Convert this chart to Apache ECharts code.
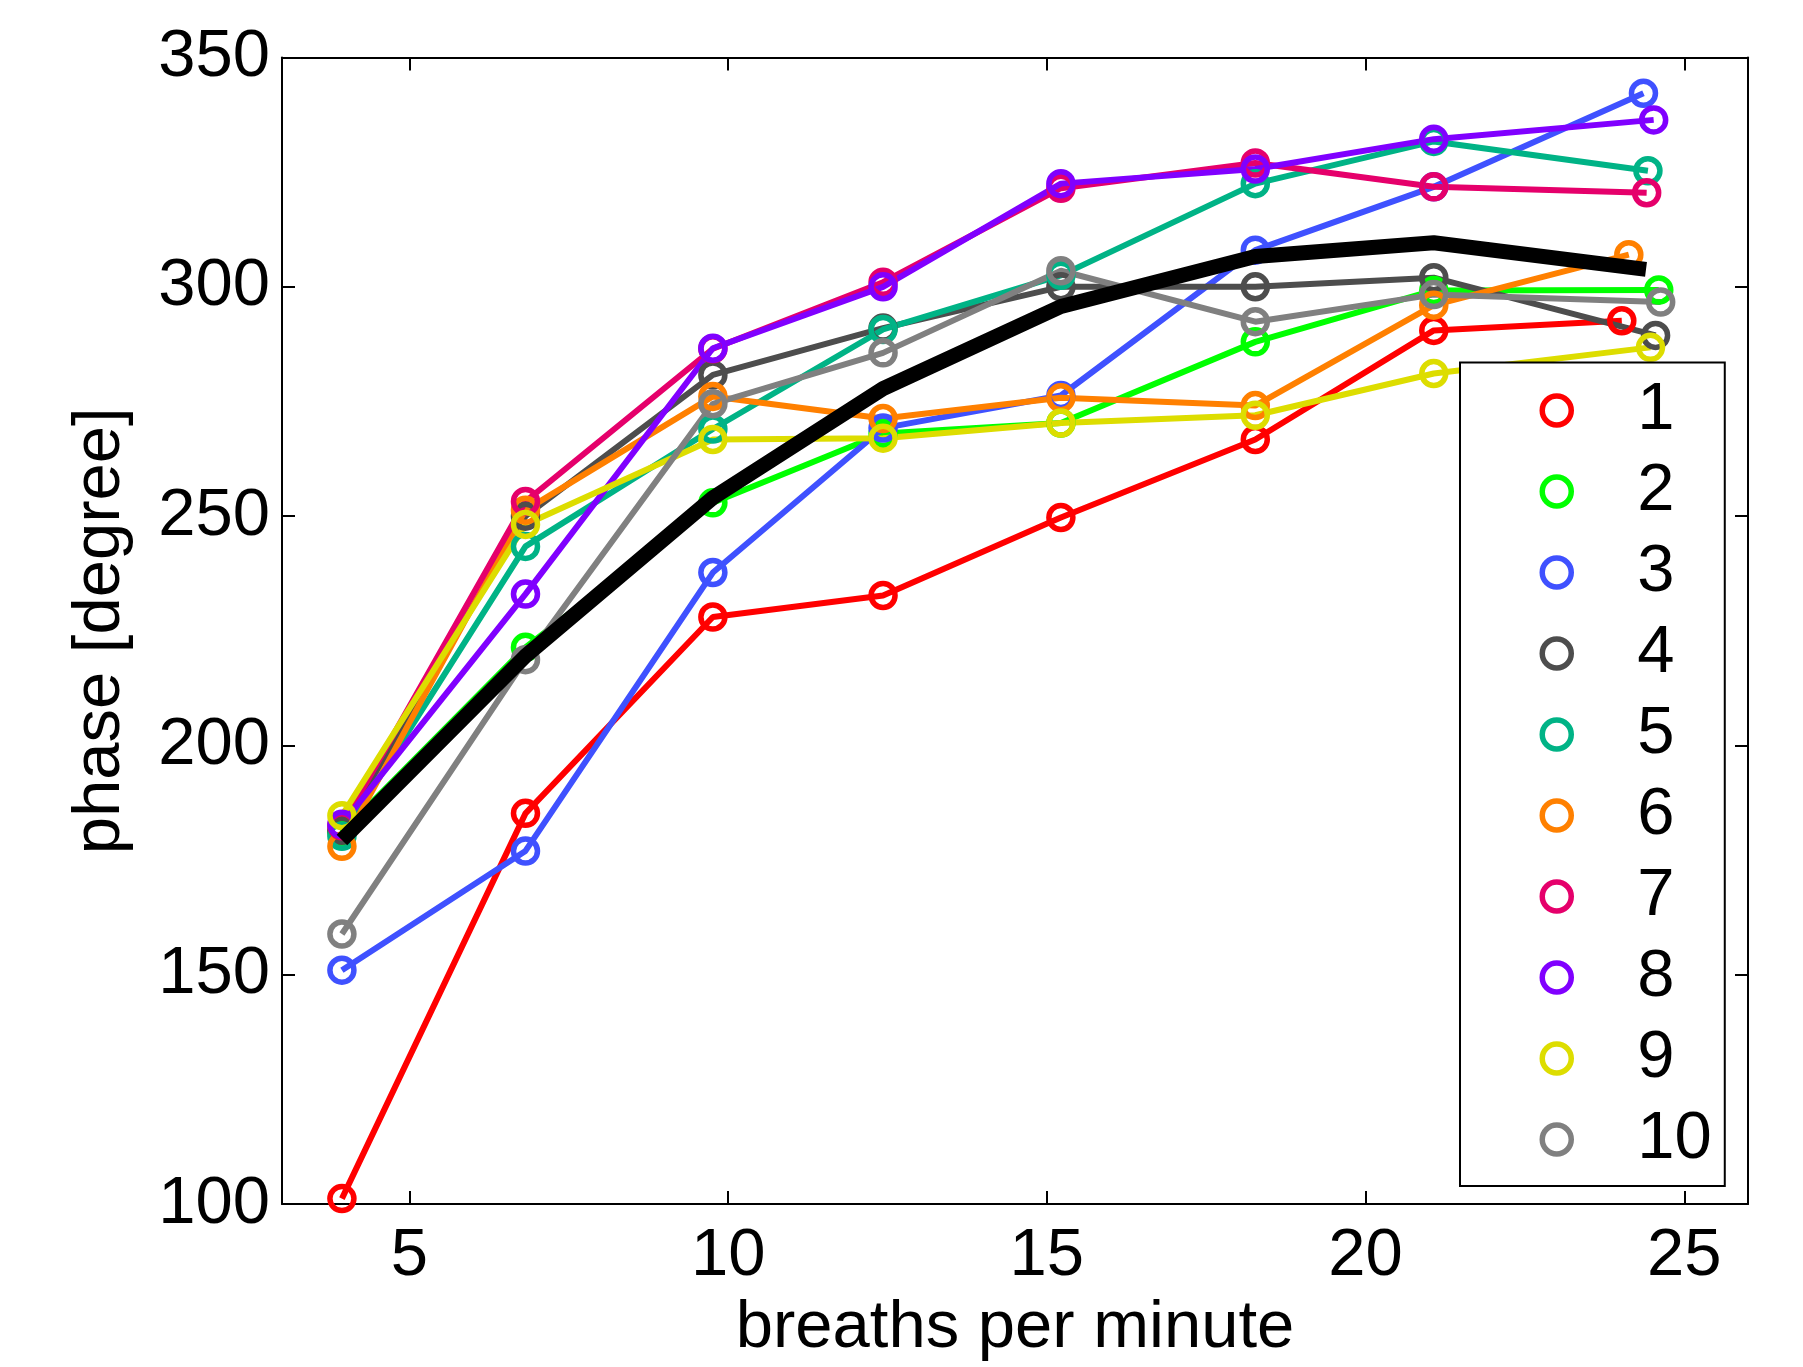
<!DOCTYPE html>
<html>
<head>
<meta charset="utf-8">
<script src="https://cdn.jsdelivr.net/npm/echarts@6/dist/echarts.min.js"></script>
<style>
html,body{margin:0;padding:0;background:#fff;}
#chart{width:1803px;height:1367px;}
</style>
</head>
<body>
<div id="chart"></div>
<script>
// breaths per minute (x positions shared by first seven points)
const bpm = [3.94, 6.82, 9.76, 12.43, 15.22, 18.27, 21.07];
// last x position per subject (1..10) and for the mean curve
const lastBpm = [24.02, 24.6, 24.36, 24.55, 24.43, 24.13, 24.41, 24.52, 24.47, 24.63];
const meanLastBpm = 24.4;

const subjectNames = ['1','2','3','4','5','6','7','8','9','10'];
const s1  = [101.2, 185.2, 228.0, 232.7, 249.7, 266.7, 290.5, 292.6];
const s2  = [181.0, 221.4, 252.9, 268.0, 270.3, 288.0, 299.2, 299.3];
const s3  = [151.0, 177.0, 237.7, 269.2, 276.3, 308.0, 321.8, 342.2];
const s4  = [181.5, 250.0, 280.8, 291.0, 300.0, 300.0, 302.0, 289.4];
const s5  = [180.2, 243.4, 269.0, 290.7, 302.5, 322.5, 331.7, 325.3];
const s6  = [178.0, 251.3, 276.1, 271.3, 275.8, 274.1, 296.0, 307.0];
const s7  = [182.5, 253.2, 286.5, 301.0, 321.5, 327.0, 321.8, 320.5];
const s8  = [182.8, 233.0, 286.6, 300.0, 322.5, 325.7, 332.2, 336.4];
const s9  = [184.7, 248.2, 266.7, 267.0, 270.3, 272.0, 281.1, 286.8];
const s10 = [158.9, 218.7, 274.5, 285.6, 303.5, 292.4, 298.3, 296.7];
const meanCurve = [179.4, 219.5, 254.0, 277.8, 295.7, 306.6, 309.6, 303.8];
const subjects = [s1, s2, s3, s4, s5, s6, s7, s8, s9, s10];

const xTicks = [5, 10, 15, 20, 25];
const yTicks = [100, 150, 200, 250, 300, 350];

const colors = ['#ff0000','#00ff00','#3f51ff','#4d4d4d','#00b386','#ff8000','#e5006b','#8000ff','#dddd00','#808080'];

const FONT = "'Liberation Sans', Arial, sans-serif";
const FS = 67;

function pairs(vals, last) {
  return vals.map((v, i) => [i < bpm.length ? bpm[i] : last, v]);
}

const series = subjects.map((vals, k) => ({
  name: subjectNames[k],
  type: 'line',
  data: pairs(vals, lastBpm[k]),
  symbol: 'circle',
  symbolSize: 24,
  color: colors[k],
  lineStyle: { color: colors[k], width: 6 },
  itemStyle: { color: 'rgba(255,255,255,0)', borderColor: colors[k], borderWidth: 5.5 },
  emphasis: { disabled: true },
  animation: false,
  z: 2
}));
series.push({
  name: 'mean',
  type: 'line',
  data: pairs(meanCurve, meanLastBpm),
  symbol: 'none',
  lineStyle: { color: '#000', width: 15 },
  emphasis: { disabled: true },
  animation: false,
  z: 3
});

const axisLineStyle = { show: true, lineStyle: { color: '#000', width: 2 } };
const tickStyle = { show: true, inside: true, length: 13, lineStyle: { color: '#000', width: 2 } };

const option = {
  backgroundColor: '#fff',
  animation: false,
  grid: { left: 282, right: 55, top: 57.5, bottom: 162, containLabel: false },
  xAxis: [{
    type: 'value', min: 3, max: 26, position: 'bottom',
    name: 'breaths per minute', nameLocation: 'middle', nameGap: 88,
    nameTextStyle: { fontFamily: FONT, fontSize: FS, color: '#000' },
    axisLine: axisLineStyle,
    axisTick: Object.assign({ customValues: xTicks }, tickStyle),
    axisLabel: { customValues: xTicks, fontFamily: FONT, fontSize: FS, color: '#000', margin: 19 },
    splitLine: { show: false }
  }, {
    type: 'value', min: 3, max: 26, position: 'top',
    axisLine: axisLineStyle,
    axisTick: Object.assign({ customValues: xTicks }, tickStyle),
    axisLabel: { show: false },
    splitLine: { show: false }
  }],
  yAxis: [{
    type: 'value', min: 100, max: 350, interval: 50, position: 'left',
    name: 'phase [degree]', nameLocation: 'middle', nameGap: 148,
    nameTextStyle: { fontFamily: FONT, fontSize: FS, color: '#000' },
    axisLine: axisLineStyle,
    axisTick: tickStyle,
    axisLabel: { fontFamily: FONT, fontSize: FS, color: '#000', margin: 12 },
    splitLine: { show: false }
  }, {
    type: 'value', min: 100, max: 350, interval: 50, position: 'right',
    axisLine: axisLineStyle,
    axisTick: tickStyle,
    axisLabel: { show: false },
    splitLine: { show: false }
  }],
  legend: {
    orient: 'vertical',
    left: 1460, top: 362.5,
    padding: [14.5, 13, 13, 79.5],
    itemGap: 14,
    itemWidth: 29, itemHeight: 29,
    backgroundColor: '#fff',
    borderColor: '#000', borderWidth: 2, borderRadius: 0,
    selectedMode: false,
    textStyle: { fontFamily: FONT, fontSize: FS, color: '#000', padding: [0, 0, 0, 61] },
    data: subjectNames.map((n, k) => ({
      name: n, icon: 'circle',
      itemStyle: { color: '#fff', borderColor: colors[k], borderWidth: 5.5 }
    }))
  },
  series: series
};

const chart = echarts.init(document.getElementById('chart'), null, { renderer: 'canvas' });
chart.setOption(option);
</script>
</body>
</html>
